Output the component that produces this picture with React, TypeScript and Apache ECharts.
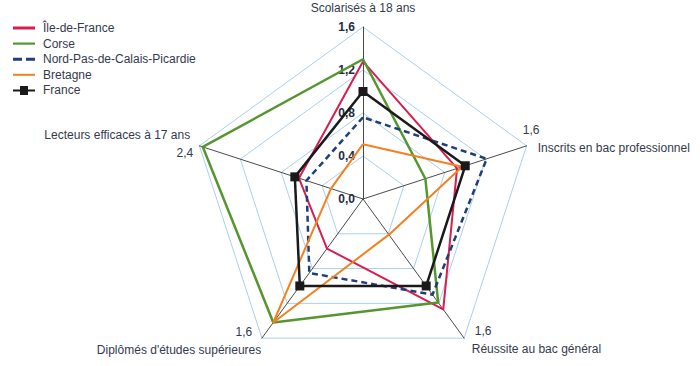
import React, { useEffect, useRef } from "react";
import * as echarts from "echarts";

// Indicators in ECharts order (counter-clockwise from the top)
const indicators = [
  "Scolarisés à 18 ans",
  "Lecteurs efficaces à 17 ans",
  "Diplômés d'études supérieures",
  "Réussite au bac général",
  "Inscrits en bac professionnel",
];
const maxima = [1.6, 2.4, 1.6, 1.6, 1.6];

const seriesNames = ["Île-de-France", "Corse", "Nord-Pas-de-Calais-Picardie", "Bretagne", "France"];
const ileDeFrance = [1.28, 0.94, 0.57, 1.27, 0.92];
const corse = [1.3, 2.35, 1.42, 1.19, 0.61];
const nordPasDeCalaisPicardie = [0.76, 0.83, 0.85, 1.1, 1.21];
const bretagne = [0.51, 0.47, 1.42, 0.41, 0.97];
const france = [1.0, 1.0, 1.0, 1.0, 1.0];

const FONT = "'Liberation Sans', Arial, sans-serif";
const TEXT = "#333a4d";

const fmt = (v: number) => v.toFixed(1).replace(".", ",");

export default function App() {
  const ref = useRef<HTMLDivElement>(null);
  useEffect(() => {
    if (!ref.current) return;
    const chart = echarts.init(ref.current, undefined, { renderer: "svg" });
    const tok = (extra: any) => ({ fontSize: 12, fontFamily: FONT, color: TEXT, lineHeight: 18, ...extra });
    const gap = (h: number) => ({ fontSize: 1, lineHeight: h });
    const option: any = {
      animation: false,
      legend: {
        orient: "vertical",
        left: 8,
        top: 17,
        itemWidth: 22,
        itemHeight: 10,
        itemGap: 3.6,
        selectedMode: false,
        textStyle: { fontSize: 12, fontFamily: FONT, color: TEXT, padding: [0, 0, 0, 3] },
        itemStyle: { borderWidth: 0 },
        data: [
          { name: seriesNames[0], icon: "path://M0,3.5H22V6.5H0Z" },
          { name: seriesNames[1], icon: "path://M0,4H22V6.2H0Z" },
          { name: seriesNames[2], icon: "path://M0,3.5H9V6.5H0Z M13,3.5H22V6.5H13Z" },
          { name: seriesNames[3], icon: "path://M0,4H22V6H0Z" },
          { name: seriesNames[4], icon: "path://M0,4H22V6H0Z M7,0.5H15V9.5H7Z" },
        ],
      },
      radar: {
        center: [363, 199],
        radius: 172,
        startAngle: 90,
        shape: "polygon",
        splitNumber: 4,
        nameGap: -4,
        axisName: {
          fontSize: 12,
          fontFamily: FONT,
          color: TEXT,
          formatter: (name: string) => {
            const i = indicators.indexOf(name);
            const m = fmt(maxima[i]);
            switch (i) {
              case 0:
                return `{top|${name}}\n{g0| }`;
              case 1:
                return `{lecN|${name}}\n{lecV|${m}}\n{g1| }`;
              case 2:
                return `{g2| }\n{dipV|${m}}\n{dipN|${name}}`;
              case 3:
                return `{g3| }\n{reuV|${m}}\n{reuN|${name}}`;
              default:
                return `{insV|${m}}\n{insN|${name}}\n{g4| }`;
            }
          },
          rich: {
            top: tok({ lineHeight: 15 }),
            g0: gap(10),
            lecN: tok({ padding: [0, 13, 0, 0] }),
            lecV: tok({ padding: [0, 10, 0, 0] }),
            g1: gap(5.5),
            g2: gap(11.4),
            dipV: tok({ padding: [0, 12, 0, 0] }),
            dipN: tok({ padding: [0, 3, 0, 0] }),
            g3: gap(9.5),
            reuV: tok({ padding: [0, 0, 0, 13] }),
            reuN: tok({ padding: [0, 0, 0, 10] }),
            insV: tok({ padding: [0, 0, 0, 0] }),
            insN: tok({ padding: [0, 0, 0, 15] }),
            g4: gap(16.4),
          },
        },
        indicator: indicators.map((name, i) => ({
          name,
          min: 0,
          max: maxima[i],
          ...(i === 0
            ? {
                axisLabel: {
                  show: true,
                  fontSize: 12,
                  fontWeight: "bold",
                  fontFamily: FONT,
                  color: "#232c45",
                  formatter: (v: number) => fmt(v),
                  showMinLabel: true,
                  showMaxLabel: true,
                },
              }
            : {}),
        })),
        axisLabel: { show: false },
        axisTick: { show: false },
        axisLine: { show: true, lineStyle: { color: "#4a4a4a", width: 1 } },
        splitLine: { show: true, lineStyle: { color: "#a9d0ee", width: 1 } },
        splitArea: { show: false },
      },
      series: [
        {
          type: "radar",
          data: [
            {
              name: seriesNames[0],
              value: ileDeFrance,
              symbol: "none",
              lineStyle: { color: "#d81e4f", width: 2 },
              itemStyle: { color: "#d81e4f" },
            },
            {
              name: seriesNames[1],
              value: corse,
              symbol: "none",
              lineStyle: { color: "#55962f", width: 2.5 },
              itemStyle: { color: "#55962f" },
            },
            {
              name: seriesNames[2],
              value: nordPasDeCalaisPicardie,
              symbol: "none",
              lineStyle: { color: "#1f3f7a", width: 2.5, type: [6, 4] },
              itemStyle: { color: "#1f3f7a" },
            },
            {
              name: seriesNames[3],
              value: bretagne,
              symbol: "none",
              lineStyle: { color: "#f5801f", width: 2 },
              itemStyle: { color: "#f5801f" },
            },
            {
              name: seriesNames[4],
              value: france,
              symbol: "rect",
              symbolSize: 9,
              lineStyle: { color: "#1a1a1a", width: 2.5 },
              itemStyle: { color: "#1a1a1a" },
            },
          ],
        },
      ],
    };
    chart.setOption(option);
    return () => chart.dispose();
  }, []);
  return (
    <div
      ref={ref}
      style={{ position: "absolute", left: 0, top: 0, width: 700, height: 366, background: "#fff" }}
    />
  );
}
